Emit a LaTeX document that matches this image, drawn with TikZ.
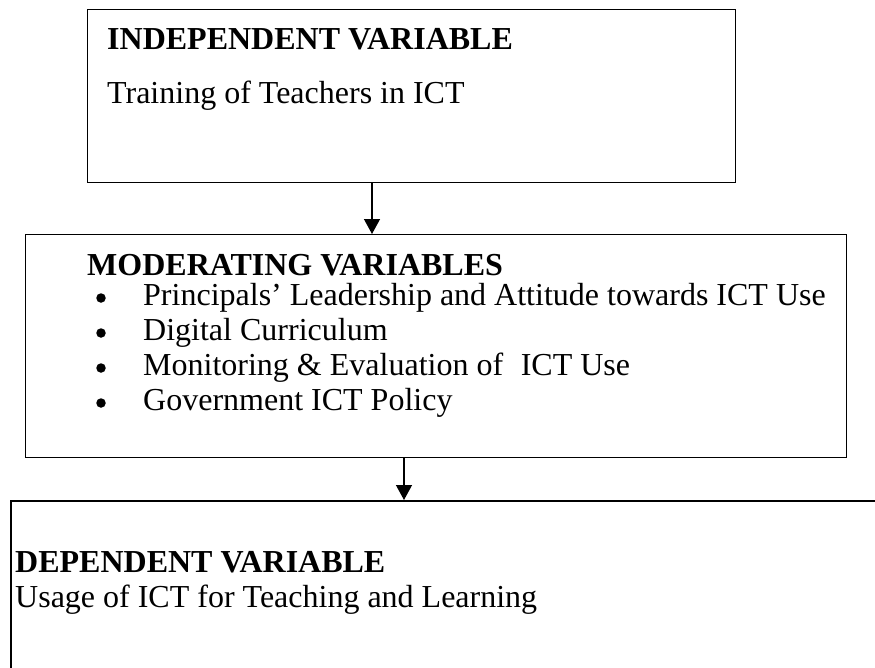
\documentclass[tikz,border=0pt]{standalone}
\usepackage{fontspec}
\setmainfont{Liberation Serif}
\usetikzlibrary{arrows.meta}
\begin{document}
\begin{tikzpicture}[x=1pt,y=-1pt,
  box/.style={draw, line width=1.3pt, inner sep=0pt, anchor=north west},
  txt/.style={anchor=base west, inner sep=0pt, font=\fontsize{32}{36}\selectfont},
  head/.style={anchor=base west, inner sep=0pt, font=\fontsize{32}{36}\selectfont\bfseries},
  bul/.style={circle, fill, inner sep=0pt, minimum size=9.5pt},
  arr/.style={-{Triangle[width=16pt,length=15pt]}, line width=1.3pt}]
\useasboundingbox (0,0) rectangle (875,667);
% boxes
\node[box, minimum width=648pt, minimum height=173pt] (indep) at (87,9) {};
\node[box, minimum width=821pt, minimum height=223pt] (moder) at (25,234) {};
\node[box, line width=2.2pt, minimum width=920pt, minimum height=220pt] (dep) at (10,500) {};
% texts of independent box
\node[head] (t1) at (107,49) {INDEPENDENT VARIABLE};
\node[txt] (t2) at (107,103) {Training of Teachers in ICT};
% texts of moderating box
\node[head] (m0) at (87,275) {MODERATING VARIABLES};
\node[bul] (b1) at (101,298) {};
\node[txt] (m1) at (143,305) {Principals’ Leadership and Attitude towards ICT Use};
\node[bul] (b2) at (101,333) {};
\node[txt] (m2) at (143,340) {Digital Curriculum};
\node[bul] (b3) at (101,368) {};
\node[txt] (m3) at (143,375) {Monitoring \& Evaluation of\hspace{0.55em}ICT Use};
\node[bul] (b4) at (101,403) {};
\node[txt] (m4) at (143,410) {Government ICT Policy};
% texts of dependent box
\node[head] (d0) at (15,572) {DEPENDENT VARIABLE};
\node[txt] (d1) at (15,607) {Usage of ICT for Teaching and Learning};
% connectors
\coordinate (a1) at (372,0);
\coordinate (a2) at (404,0);
\draw[arr] (a1 |- indep.south) -- (a1 |- moder.north);
\draw[arr] (a2 |- moder.south) -- (a2 |- dep.north);
\end{tikzpicture}
\end{document}
